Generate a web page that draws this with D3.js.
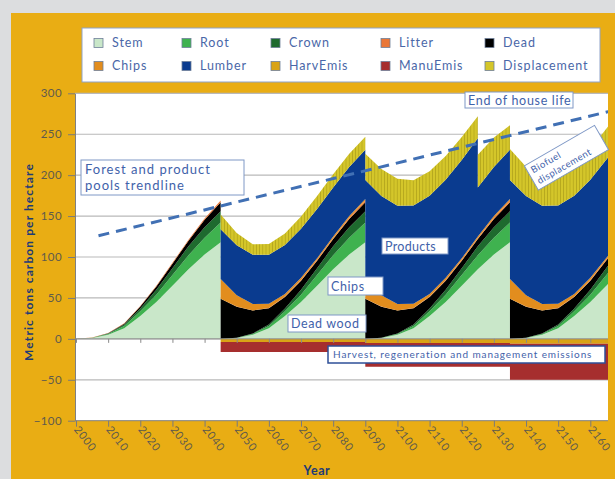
<!DOCTYPE html>
<html><head><meta charset="utf-8">
<script src="https://cdn.jsdelivr.net/npm/d3@7"></script>
<style>
html,body{margin:0;padding:0;background:#dcdddf;}
svg{display:block;font-family:Lato, "Open Sans", sans-serif;}
</style></head><body>
<svg id="c" width="615" height="479"></svg>
<script>
// ---------- DATA ----------
const years = [2000,2005,2010,2015,2020,2025,2030,2035,2040,2045,
               2045,2050,2055,2060,2065,2070,2075,2080,2085,2090,
               2090,2095,2100,2105,2110,2115,2120,2125,2125,2130,2135,
               2135,2140,2145,2150,2155,2160,2166];
const stem   = [0,1,5,13,28,45,65,85,103,118, 0,1,5,13,28,45,65,85,103,118, 0,1,5,13,28,45,65,85,85,103,118, 0,1,5,13,28,45,69];
const root   = [0,0.2,1,2.7,5.6,9,13,17,20.5,24, 0,0.2,1,2.7,5.6,9,13,17,20.5,24, 0,0.2,1,2.7,5.6,9,13,17,17,20.5,24, 0,0.2,1,2.7,5.6,9,14];
const crown  = [0,0.1,0.6,1.7,3.6,6,8.4,11,13,14, 0,0.1,0.6,1.7,3.6,6,8.4,11,13,14, 0,0.1,0.6,1.7,3.6,6,8.4,11,11,13,14, 0,0.1,0.6,1.7,3.6,6,9];
const litter = [0,0.1,0.1,0.4,0.6,1,1.1,1,1.5,2, 0,0.1,0.1,0.4,0.6,1,1.1,1,1.5,2, 0,0.1,0.1,0.4,0.6,1,1.1,1,1,1.5,2, 0,0.1,0.1,0.4,0.6,1,1.1];
const dead   = [0,0.1,0.3,1.2,2.2,4,5.5,7,9,11, 49,38,28,20,14,11,9,9,10,11, 49,38,28,20,14,11,9,9,9,10,11, 49,38,28,20,14,11,9];
const chips  = [0,0,0,0,0,0,0,0,0,0, 24,14,8,5,3,2.5,2,2,2,2, 24,14,8,5,3,2.5,2,2,2,2,2, 24,14,8,5,3,2.5,2];
const lumber = [0,0,0,0,0,0,0,0,0,0, 61,61,60,60,60,60,60,60,60,60, 121,121,120,120,120,120,120,120,60,60,60, 121,121,120,120,120,120,120];
const displacement = [0,0,0,0,0,0,0,0,0,0, 18,15,13,13,14,15,16,16,16,16, 32,33,33,31,30,29,28,27,40,36,30, 38,36,34,34,35,37,38];
const harvEmis = [0,0,0,0,0,0,0,0,0,0, -4,-4,-4,-4,-4,-4,-4,-4,-4,-4, -5,-5,-5,-5,-5,-5,-5,-5,-5,-5,-5, -6,-6,-6,-6,-6,-6,-6];
const manuEmis = [0,0,0,0,0,0,0,0,0,0, -12,-12,-12,-12,-12,-12,-12,-12,-12,-12, -29,-29,-29,-29,-29,-29,-29,-29,-29,-29,-29, -44,-44,-44,-44,-44,-44,-44];

const trendYears  = [2007, 2166];
const trendValues = [126, 278];

const legendLabels = ["Stem","Root","Crown","Litter","Dead","Chips","Lumber","HarvEmis","ManuEmis","Displacement"];
const yTicks = [-100,-50,0,50,100,150,200,250,300];
const xTicks = [2000,2010,2020,2030,2040,2050,2060,2070,2080,2090,2100,2110,2120,2130,2140,2150,2160];

// ---------- STYLE ----------
const colors = {Stem:"#c9e7c9", Root:"#3fb24f", Crown:"#1e6a2e", Litter:"#ea7636", Dead:"#000000",
  Chips:"#e28d1e", Lumber:"#0a3b8f", HarvEmis:"#d9a316", ManuEmis:"#a62e2e", Displacement:"#d4c62a"};

const rows = years.map((yr,i)=>({year:yr, Stem:stem[i], Root:root[i], Crown:crown[i], Litter:litter[i],
  Dead:dead[i], Chips:chips[i], Lumber:lumber[i], Displacement:displacement[i],
  HarvEmis:harvEmis[i], ManuEmis:manuEmis[i]}));

const svg = d3.select("#c");
svg.append("rect").attr("x",11).attr("y",13).attr("width",615).attr("height",479).attr("fill","#e9ad14");

const P = {l:75, r:608, t:93.3, b:420.7};
const x = d3.scaleLinear().domain([2000,2165.5]).range([76,608]);
const y = d3.scaleLinear().domain([-100,300]).range([P.b,P.t]);

svg.append("rect").attr("x",P.l).attr("y",P.t).attr("width",P.r-P.l).attr("height",P.b-P.t).attr("fill","#fff");

const defs = svg.append("defs");
defs.append("clipPath").attr("id","clip").append("rect")
  .attr("x",P.l).attr("y",P.t).attr("width",P.r-P.l).attr("height",P.b-P.t);
const pat = defs.append("pattern").attr("id","dispPat").attr("patternUnits","userSpaceOnUse")
  .attr("width",3.2).attr("height",10);
pat.append("rect").attr("width",3.2).attr("height",10).attr("fill",colors.Displacement);
pat.append("rect").attr("width",0.8).attr("height",10).attr("fill","#b3a51c");

// gridlines
svg.append("g").selectAll("line").data(yTicks.filter(v=>v>-100)).join("line")
  .attr("x1",P.l).attr("x2",P.r).attr("y1",d=>y(d)).attr("y2",d=>y(d))
  .attr("stroke","#b9b9b9").attr("stroke-width",1.2);

// stacks
const posKeys = ["Stem","Root","Crown","Dead","Litter","Chips","Lumber","Displacement"];
const negKeys = ["HarvEmis","ManuEmis"];
const posStack = d3.stack().keys(posKeys)(rows);
const negStack = d3.stack().keys(negKeys)(rows);
const area = d3.area().x(d=>x(d.data.year)).y0(d=>y(d[0])).y1(d=>y(d[1]));
const gA = svg.append("g").attr("clip-path","url(#clip)");
gA.selectAll("path.neg").data(negStack).join("path").attr("class","neg")
  .attr("d",area).attr("fill",d=>colors[d.key]);
gA.selectAll("path.pos").data(posStack).join("path").attr("class","pos")
  .attr("d",area).attr("fill",d=>d.key==="Displacement"?"url(#dispPat)":colors[d.key]);

// y axis
const yAxis = svg.append("g").attr("transform",`translate(${P.l},0)`)
  .call(d3.axisLeft(y).tickValues(yTicks).tickSize(7).tickSizeOuter(0).tickPadding(6));
yAxis.select(".domain").attr("stroke","#808080");
yAxis.selectAll(".tick line").attr("stroke","#7a7a7a");
yAxis.selectAll("text").attr("fill","#5f5a4c").attr("font-size",11.5).attr("font-family","Lato, sans-serif")
  .attr("letter-spacing",0.4);

// x axis at zero (ticks only)
const x0 = svg.append("g").attr("transform",`translate(0,${y(0)})`)
  .call(d3.axisBottom(x).tickValues(xTicks).tickSize(4).tickSizeOuter(0).tickFormat(""));
x0.select(".domain").attr("stroke","#8a8a8a").attr("d",`M${P.l},0H${P.r}`);
x0.selectAll(".tick line").attr("stroke","#8a8a8a");

// x axis bottom with rotated labels
const xb = svg.append("g").attr("transform",`translate(0,${P.b})`)
  .call(d3.axisBottom(x).tickValues(xTicks).tickSize(6).tickSizeOuter(0).tickFormat(d3.format("d")));
xb.select(".domain").attr("stroke","#808080").attr("d",`M${P.l},0H${P.r}`);
xb.selectAll(".tick line").attr("stroke","#7a7a7a");
xb.selectAll(".tick text").attr("fill","#5f5a4c").attr("font-size",11).attr("font-family","Lato, sans-serif")
  .attr("letter-spacing",0.8)
  .attr("text-anchor","start").attr("dy",0).attr("y",0)
  .attr("transform","translate(-3,9) rotate(52)");

// trendline
svg.append("path").datum(trendYears.map((t,i)=>[t,trendValues[i]]))
  .attr("clip-path","url(#clip)")
  .attr("d",d3.line().x(d=>x(d[0])).y(d=>y(d[1])))
  .attr("fill","none").attr("stroke","#4170b4").attr("stroke-width",3).attr("stroke-dasharray","11,7");

// axis titles
svg.append("text").attr("transform","translate(33,262) rotate(-90)").attr("text-anchor","middle")
  .attr("font-size",12).attr("font-weight","bold").attr("letter-spacing",1.1)
  .attr("fill","#1d3a77").text("Metric tons carbon per hectare");
svg.append("text").attr("x",317).attr("y",475).attr("text-anchor","middle")
  .attr("font-size",12.5).attr("font-weight","bold").attr("letter-spacing",0.6)
  .attr("fill","#1d3a77").text("Year");

// legend
const lg = svg.append("g");
lg.append("rect").attr("x",82).attr("y",28).attr("width",518).attr("height",54)
  .attr("fill","#fff").attr("stroke","#8fa3c8").attr("stroke-width",1);
const colX = [94,182,271,381,485];
legendLabels.forEach((k,i)=>{
  const c = i%5, r = Math.floor(i/5);
  const cx = colX[c], cy = r===0?43:66;
  lg.append("rect").attr("x",cx).attr("y",cy-4.5).attr("width",9).attr("height",9)
    .attr("fill",colors[k]).attr("stroke","#6f7f99").attr("stroke-width",0.8);
  lg.append("text").attr("x",cx+18).attr("y",cy).attr("dy","0.35em").attr("font-size",12.5)
    .attr("letter-spacing",0.9).attr("fill","#4a67a8").text(k);
});

// annotations
const ann = svg.append("g");
function box(x0,y0,w,h,lines,fs,opt={}){
  const g = ann.append("g").attr("transform",opt.transform||null);
  g.append("rect").attr("x",x0).attr("y",y0).attr("width",w).attr("height",h)
    .attr("fill","#fff").attr("stroke",opt.stroke||"#7f98c6").attr("stroke-width",opt.sw||1);
  lines.forEach((t,i)=>{
    g.append("text").attr("x",x0+(opt.pad||3)).attr("y",y0+(opt.ty||fs)+i*(fs+3)).attr("font-size",fs)
      .attr("letter-spacing",opt.ls==null?0.8:opt.ls).attr("fill","#3f62aa").text(t);
  });
}
box(81,160,163,35,["Forest and product","pools trendline"],13,{pad:4,ty:14,ls:1});
box(465,92,108,16,["End of house life"],12.5,{ty:12.5,ls:0.7});
box(382,238,66,16,["Products"],12.5,{ty:12.5,ls:0.3});
box(328,277,55,18,["Chips"],12.5,{ty:13.5,ls:0.6});
box(288,315,78,17,["Dead wood"],12.5,{ty:13,ls:0.6});
box(328,346,277,17,["Harvest, regeneration and management emissions"],10,{stroke:"#2e4f98",sw:1.5,pad:5,ty:12,ls:0.9});
box(526,144,81,28,["Biofuel","displacement"],9.5,{transform:"rotate(-30,566,158)",ty:11,pad:4,ls:0.5});
</script>
</body></html>
